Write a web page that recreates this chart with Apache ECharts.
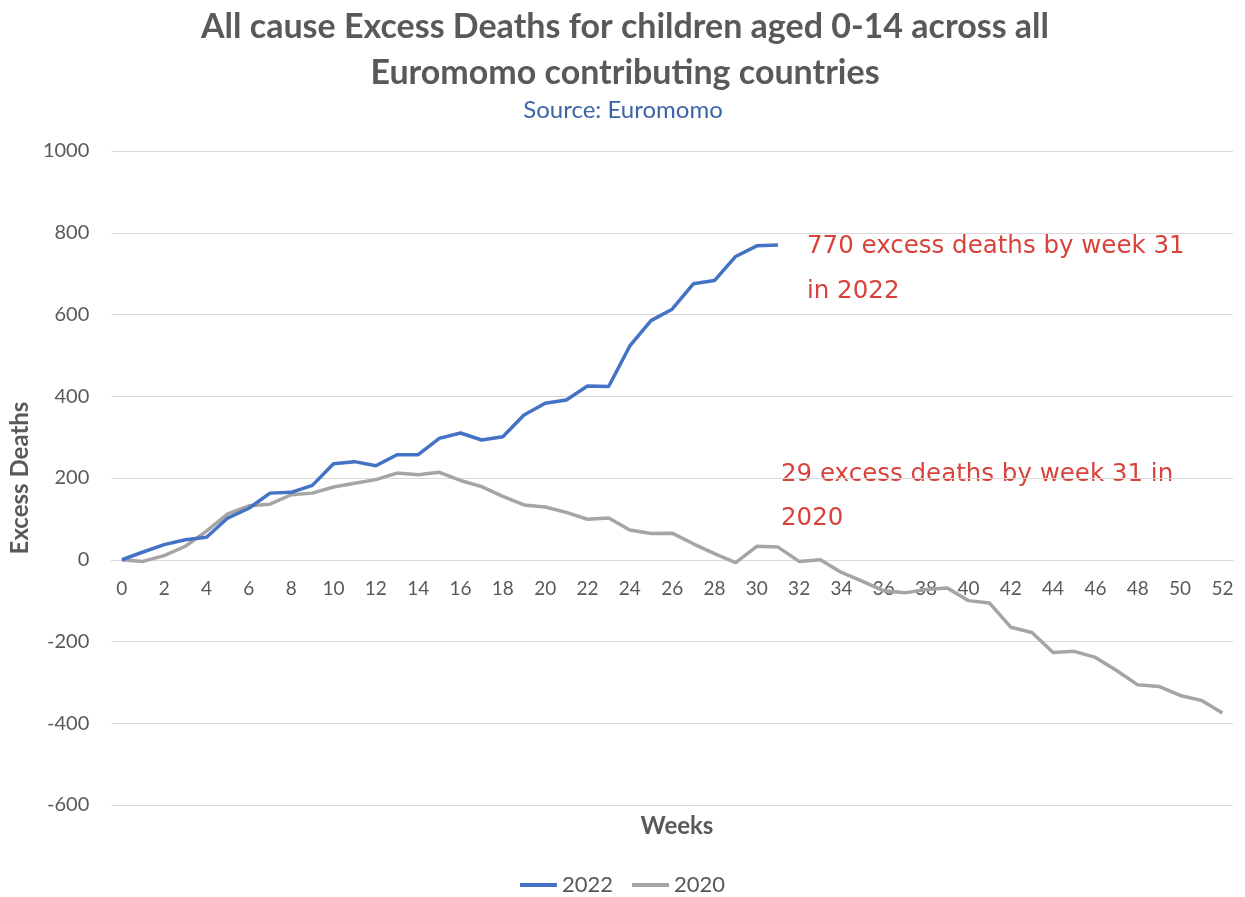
<!DOCTYPE html>
<html lang="en">
<head>
  <meta charset="UTF-8">
  <title>Excess Deaths children 0-14</title>
  <style>
    html, body { margin: 0; padding: 0; background: #fff; }
    #main { width: 1245px; height: 897px; }
  </style>
</head>
<body>
  <div id="main"></div>
  <script src="https://cdn.jsdelivr.net/npm/echarts@6/dist/echarts.min.js"></script>
  <script>
    // weeks 0..52
    var weeks = [];
    for (var i = 0; i <= 52; i++) weeks.push(String(i));

    // cumulative excess deaths
    var deaths2022 = [0, 19, 37, 49, 55, 102, 126, 163, 165, 182, 235, 240, 230, 257, 257, 297,
      310, 293, 301, 354, 383, 391, 425, 424, 523, 585, 613, 675, 683, 742, 768, 770];
    var deaths2020 = [0, -4, 10, 33, 70, 112, 132, 136, 159, 163, 178, 187, 196, 212, 208, 214,
      194, 179, 155, 134, 129, 116, 99, 102, 73, 64, 65, 39, 15, -7, 33, 31,
      -4, 0, -31, -53, -76, -81, -73, -69, -100, -106, -165, -178, -227, -224, -239, -271,
      -306, -310, -332, -344, -375];

    var grey = '#595959';
    var red = '#d9413b';
    var chart = echarts.init(document.getElementById('main'));

    var option = {
      textStyle: { fontFamily: 'Lato' },
      title: [{
        text: 'All cause Excess Deaths for children aged 0-14 across all\nEuromomo contributing countries',
        left: 620,
        textAlign: 'center',
        top: -1,
        textStyle: { color: grey, fontSize: 34, fontWeight: 'bold', lineHeight: 46, fontFamily: 'Lato' }
      }, {
        text: 'Source: Euromomo',
        left: 618,
        textAlign: 'center',
        top: 93,
        textStyle: { color: '#3e64a8', fontSize: 24, fontWeight: 'normal', fontFamily: 'Lato' }
      }, {
        text: 'Weeks',
        left: 672,
        textAlign: 'center',
        top: 809,
        textStyle: { color: grey, fontSize: 24, fontWeight: 'bold', fontFamily: 'Lato' }
      }],
      legend: {
        bottom: -4,
        left: 'center',
        itemWidth: 37,
        itemHeight: 4,
        itemGap: 19,
        icon: 'rect',
        textStyle: { color: grey, fontSize: 22 },
        data: ['2022', '2020']
      },
      grid: { left: 107, right: 12, top: 151, bottom: 92 },
      xAxis: {
        type: 'category',
        data: weeks,
        boundaryGap: true,
        // axis sits on the zero line, like the Excel original
        offset: -245,
        axisLine: { onZero: false, lineStyle: { color: '#d9d9d9', width: 1 } },
        axisTick: { show: false },
        axisLabel: { interval: 1, color: grey, fontSize: 19, margin: 19 }
      },
      yAxis: {
        type: 'value',
        min: -600,
        max: 1000,
        interval: 200,
        name: 'Excess Deaths',
        nameLocation: 'middle',
        nameGap: 75,
        nameTextStyle: { color: grey, fontSize: 24, fontWeight: 'bold' },
        axisLine: { show: false },
        axisTick: { show: false },
        axisLabel: {
          color: grey, fontSize: 20, margin: 22,
          formatter: function (v) { return String(v); }
        },
        splitLine: { lineStyle: { color: '#d9d9d9', width: 1 } }
      },
      series: [{
        name: '2020',
        type: 'line',
        data: deaths2020,
        symbol: 'none',
        z: 2,
        lineStyle: { color: '#a5a5a5', width: 3.5 },
        itemStyle: { color: '#a5a5a5' }
      }, {
        name: '2022',
        type: 'line',
        data: deaths2022,
        symbol: 'none',
        z: 3,
        lineStyle: { color: '#4472c4', width: 3.5 },
        itemStyle: { color: '#4472c4' }
      }],
      graphic: [{
        type: 'text',
        left: 807,
        top: 224,
        style: {
          text: '770 excess deaths by week 31\nin 2022',
          fill: red,
          font: '24.5px "DejaVu Sans"',
          lineHeight: 45
        }
      }, {
        type: 'text',
        left: 781,
        top: 453,
        style: {
          text: '29 excess deaths by week 31 in\n2020',
          fill: red,
          font: '24.5px "DejaVu Sans"',
          lineHeight: 44
        }
      }]
    };
    chart.setOption(option);
  </script>
</body>
</html>
